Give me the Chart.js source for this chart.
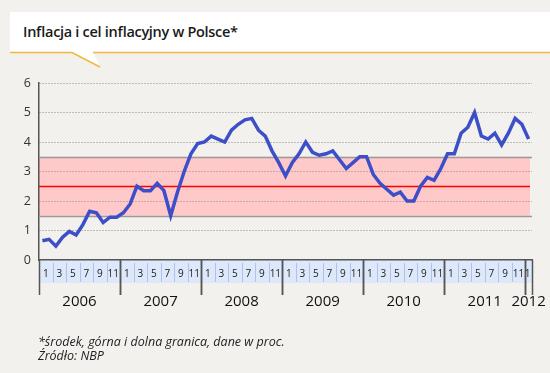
<!DOCTYPE html>
<html>
<head>
<meta charset="utf-8">
<script src="https://cdn.jsdelivr.net/npm/chart.js@4.4.0/dist/chart.umd.min.js"></script>
<style>
  html, body { margin: 0; padding: 0; }
  body { width: 550px; height: 373px; background: #f3f1ee; position: relative; overflow: hidden; font-family: "Open Sans", sans-serif; }
  #chart { position: absolute; left: 0; top: 0; }
  #head { position: absolute; left: 0; top: 0; }
  .note { position: absolute; left: 38px; font-style: italic; font-size: 12.5px; color: #222; white-space: nowrap; }
</style>
</head>
<body>
<canvas id="chart" width="550" height="373"></canvas>
<svg id="head" width="550" height="80">
  <rect x="10" y="12" width="540" height="40" fill="#ffffff"/>
  <polygon points="72,52 100,67 93,52" fill="#ffffff"/>
  <polyline points="10,52.5 72,52.5 100,67" fill="none" stroke="#f2b83c" stroke-width="1.5"/>
  <line x1="93" y1="52.5" x2="550" y2="52.5" stroke="#f2b83c" stroke-width="1.5"/>
  <text x="23" y="37" font-family="Open Sans" font-weight="600" font-size="14.5" fill="#1a1a1a" textLength="215">Inflacja i cel inflacyjny w Polsce*</text>
</svg>
<div class="note" style="top:333px">*środek, górna i dolna granica, dane w proc.</div>
<div class="note" style="top:347px">Źródło: NBP</div>
<script>
// lata i liczba miesięcy w każdym roku na osi
const years = [2006, 2007, 2008, 2009, 2010, 2011, 2012];
const monthsInYear = [12, 12, 12, 12, 12, 12, 1];

// inflacja r/r w proc., od 01.2006 do 01.2012
const inflation = [
    0.65, 0.7, 0.47, 0.77, 0.97, 0.85, 1.2, 1.65, 1.6, 1.27, 1.45, 1.45,   // 2006
    1.6, 1.9, 2.5, 2.35, 2.35, 2.6, 2.35, 1.5, 2.3, 3.0, 3.6, 3.95,        // 2007
    4.0, 4.2, 4.1, 4.0, 4.4, 4.6, 4.75, 4.8, 4.4, 4.2, 3.7, 3.3,           // 2008
    2.85, 3.3, 3.6, 4.0, 3.65, 3.55, 3.6, 3.7, 3.4, 3.1, 3.3, 3.5,         // 2009
    3.5, 2.9, 2.6, 2.4, 2.2, 2.3, 2.0, 2.0, 2.5, 2.8, 2.7, 3.1,            // 2010
    3.6, 3.6, 4.3, 4.5, 5.0, 4.2, 4.1, 4.3, 3.9, 4.3, 4.8, 4.6,            // 2011
    4.1                                                                     // 2012
];

// cel inflacyjny NBP i pasmo odchyleń
const targetMid = 2.5;
const targetUpper = 3.5;
const targetLower = 1.5;

const yTicks = [0, 1, 2, 3, 4, 5, 6];

// kategorie: rok-miesiąc
const categories = [];
const monthNumbers = [];
years.forEach((y, k) => {
    for (let m = 1; m <= monthsInYear[k]; m++) {
        categories.push(y + '-' + m);
        monthNumbers.push(m);
    }
});

const decor = {
    id: 'decor',
    beforeDraw(chart) {
        const { ctx, chartArea: a, scales: { y } } = chart;
        ctx.save();
        // pasek z miesiącami
        ctx.fillStyle = '#dde8fb';
        ctx.fillRect(a.left, a.bottom, a.right - a.left, 23);
        // pasmo celu
        const top = y.getPixelForValue(targetUpper);
        const bot = y.getPixelForValue(targetLower);
        ctx.fillStyle = '#ffc9c9';
        ctx.fillRect(a.left, top, a.right - a.left - 2, bot - top);
        ctx.restore();
    },
    beforeDatasetsDraw(chart) {
        const { ctx, chartArea: a, scales: { y } } = chart;
        ctx.save();
        ctx.lineWidth = 1.5;
        ctx.strokeStyle = '#9a9a9a';
        [targetUpper, targetLower].forEach(v => {
            const py = Math.round(y.getPixelForValue(v)) + 0.5;
            ctx.beginPath();
            ctx.moveTo(a.left, py);
            ctx.lineTo(a.right, py);
            ctx.stroke();
        });
        ctx.strokeStyle = '#ff0000';
        const my = Math.round(y.getPixelForValue(targetMid)) + 0.5;
        ctx.beginPath();
        ctx.moveTo(a.left, my);
        ctx.lineTo(a.right - 2, my);
        ctx.stroke();
        ctx.restore();
    },
    afterDraw(chart) {
        const { ctx, chartArea: a, scales: { x } } = chart;
        const w = x.getPixelForValue(1) - x.getPixelForValue(0);
        ctx.save();
        // separatory i numery miesięcy (podpis co dwa miesiące)
        ctx.strokeStyle = '#afc3ea';
        ctx.lineWidth = 1;
        ctx.fillStyle = '#222';
        ctx.font = '10px "Open Sans"';
        ctx.textAlign = 'center';
        ctx.textBaseline = 'middle';
        monthNumbers.forEach((m, i) => {
            if (m % 2 === 1 && m > 1) {
                const px = Math.round(x.getPixelForValue(i) - w / 2) + 0.5;
                ctx.beginPath();
                ctx.moveTo(px, a.bottom + 3);
                ctx.lineTo(px, a.bottom + 22);
                ctx.stroke();
            }
            if (m % 2 === 1) {
                const last = i === monthNumbers.length - 1;
                const lx = last ? x.getPixelForValue(i) - 1 : x.getPixelForValue(i) + w / 2;
                ctx.fillText(String(m), lx, a.bottom + 14);
            }
        });
        // granice lat i podpisy
        ctx.strokeStyle = '#555';
        ctx.lineWidth = 1.5;
        ctx.fillStyle = '#111';
        ctx.font = '15px "Open Sans"';
        let start = 0;
        years.forEach((yr, k) => {
            const x0 = x.getPixelForValue(start) - w / 2;
            const x1 = x.getPixelForValue(start + monthsInYear[k] - 1) + w / 2;
            [x0, x1].forEach(px => {
                ctx.beginPath();
                ctx.moveTo(Math.round(px) + 0.5, a.bottom);
                ctx.lineTo(Math.round(px) + 0.5, a.bottom + 35);
                ctx.stroke();
            });
            ctx.fillText(String(yr), (x0 + x1) / 2, a.bottom + 42);
            start += monthsInYear[k];
        });
        ctx.restore();
    }
};

new Chart(document.getElementById('chart'), {
    type: 'line',
    data: {
        labels: categories,
        datasets: [{
            label: 'Inflacja',
            data: inflation,
            borderColor: '#3c4ec8',
            borderWidth: 3.5,
            pointRadius: 0,
            tension: 0,
            borderJoinStyle: 'miter'
        }]
    },
    options: {
        responsive: false,
        animation: false,
        layout: { padding: { top: 83, right: 18, bottom: 68, left: 0 } },
        plugins: { legend: { display: false }, tooltip: { enabled: false } },
        scales: {
            x: {
                type: 'category',
                offset: true,
                grid: { display: false },
                border: { display: true, color: '#555', width: 1.5 },
                ticks: { display: false },
                afterFit: s => { s.height = 45; }
            },
            y: {
                min: yTicks[0],
                max: yTicks[yTicks.length - 1],
                afterBuildTicks: s => { s.ticks = yTicks.map(v => ({ value: v })); },
                grid: {
                    drawTicks: false,
                    color: c => c.tick && c.tick.value === 0 ? 'rgba(0,0,0,0)' : '#888',
                    lineWidth: 1
                },
                border: { display: true, color: '#555', width: 1.5, dash: [1, 2] },
                ticks: {
                    padding: 8,
                    color: '#333',
                    font: { family: 'Open Sans', size: 12.5 }
                },
                afterFit: s => { s.width = 39; }
            }
        }
    },
    plugins: [decor]
});
</script>
</body>
</html>
